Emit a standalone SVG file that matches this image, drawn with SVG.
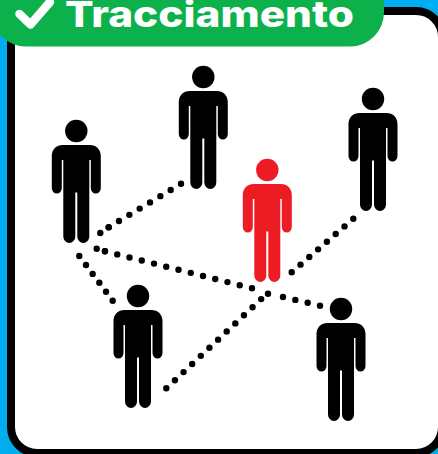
<svg xmlns="http://www.w3.org/2000/svg" width="438" height="454" viewBox="0 0 438 454">
<style>
.dots{fill:none;stroke:#000;stroke-width:6.4;stroke-linecap:round}
.label{font-family:"Inter","Liberation Sans",sans-serif;font-weight:800;font-size:36px;fill:#fff}
</style>
<defs>
<g id="person">
<circle cx="0" cy="0" r="11.200"/>
<path d="M-13.500 14H13.500C20 14 24.500 18.500 24.500 25V57A5 5.500 0 0 1 14.500 57V29H13V105.500A6 6.500 0 0 1 1 105.500V61.500H-1V105.500A6 6.500 0 0 1 -13 105.500V29H-14.500V57A5 5.500 0 0 1 -24.500 57V25C-24.500 18.500 -20 14 -13.500 14Z"/>
</g>
</defs>
<rect width="438" height="454" fill="#00aeef"/>
<rect x="11" y="11" width="431" height="442" rx="26" fill="#fff" stroke="#000" stroke-width="8"/>
<g id="connectors">
<line class="dots" x1="100.300" y1="233" x2="108.700" y2="227.300" stroke-dasharray="0 10.100"/>
<line class="dots" x1="108.700" y1="227.300" x2="181.500" y2="183.400" stroke-dasharray="0 12.060"/>
<line class="dots" x1="96.700" y1="248.700" x2="105" y2="251.300" stroke-dasharray="0 8.600"/>
<line class="dots" x1="105" y1="251.300" x2="252.500" y2="288.400" stroke-dasharray="0 12.630"/>
<line class="dots" x1="283" y1="297" x2="320.500" y2="305.800" stroke-dasharray="0 12.670"/>
<line class="dots" x1="166.300" y1="388.300" x2="261.400" y2="298.900" stroke-dasharray="0 11.840"/>
<line class="dots" x1="291.700" y1="272.300" x2="353.700" y2="218.400" stroke-dasharray="0 11.660"/>
<circle cx="268" cy="293.700" r="3.200"/>
<line class="dots" x1="79.300" y1="256" x2="113" y2="301.100" stroke-dasharray="0 11.160"/>
</g>
<g id="person-1"><use href="#person" x="76.300" y="131"/></g>
<g id="person-2"><use href="#person" x="203.300" y="77"/></g>
<g id="person-3"><use href="#person" x="373" y="99"/></g>
<g id="person-4" fill="#ed1c24"><use href="#person" x="267.300" y="170"/></g>
<g id="person-5"><use href="#person" x="138" y="296"/></g>
<g id="person-6"><use href="#person" x="341" y="309"/></g>
<g id="badge">
<rect x="-8" y="-40" width="392" height="86.500" rx="34" fill="#0db14b"/>
<path d="M19.500 14L30.500 24.500L50 2" fill="none" stroke="#fff" stroke-width="8.500" stroke-linecap="round" stroke-linejoin="round"/>
<text class="label" x="65" y="27" textLength="289" lengthAdjust="spacingAndGlyphs">Tracciamento</text>
</g>
</svg>
